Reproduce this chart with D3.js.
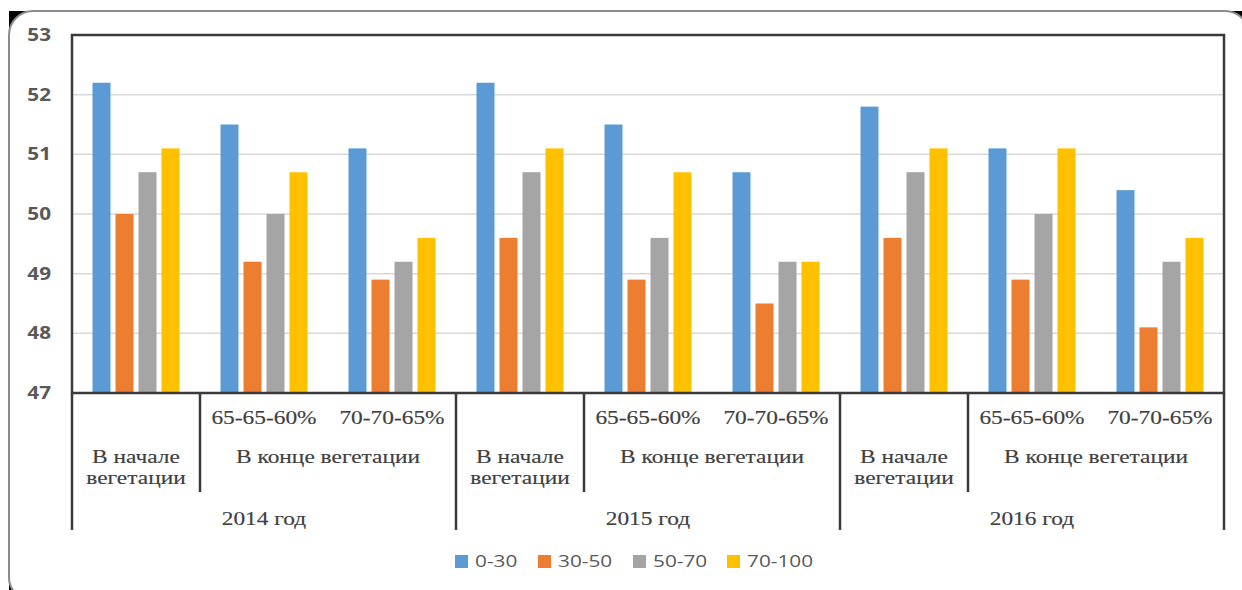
<!DOCTYPE html>
<html>
<head>
<meta charset="utf-8">
<script src="https://cdn.jsdelivr.net/npm/d3@7"></script>
<style>
  body { margin: 0; background: #fff; }
  svg { display: block; }
</style>
</head>
<body>
<div id="chart"></div>
<script>
const width = 1242;
const height = 590;

// data
const years = ["2014 год", "2015 год", "2016 год"];
const stages = ["В начале вегетации", "65-65-60%", "70-70-65%"];
const series = ["0-30", "30-50", "50-70", "70-100"];
const colors = ["#5b9bd5", "#ed7d31", "#a5a5a5", "#ffc000"];
const s0_30   = [52.2, 51.5, 51.1, 52.2, 51.5, 50.7, 51.8, 51.1, 50.4];
const s30_50  = [50.0, 49.2, 48.9, 49.6, 48.9, 48.5, 49.6, 48.9, 48.1];
const s50_70  = [50.7, 50.0, 49.2, 50.7, 49.6, 49.2, 50.7, 50.0, 49.2];
const s70_100 = [51.1, 50.7, 49.6, 51.1, 50.7, 49.2, 51.1, 51.1, 49.6];
const yTicks = [47, 48, 49, 50, 51, 52, 53];

const values = [s0_30, s30_50, s50_70, s70_100];
const cats = d3.range(9);

const margin = { top: 35, left: 72, right: 18, bottom: 197 };
const plotW = width - margin.left - margin.right;

const svg = d3.select("#chart")
  .append("svg")
  .attr("width", width)
  .attr("height", height);

// outer frame with dark corners
svg.append("rect")
  .attr("x", 9).attr("y", 11)
  .attr("width", 1240).attr("height", 590)
  .attr("fill", "#000");
svg.append("rect")
  .attr("x", 9).attr("y", 11)
  .attr("width", 1240).attr("height", 590)
  .attr("rx", 24)
  .attr("fill", "#fff")
  .attr("stroke", "#8c8c8c")
  .attr("stroke-width", 2);

const x0 = d3.scaleBand()
  .domain(cats)
  .range([margin.left, margin.left + plotW]);

const cw = x0.bandwidth();
const x1 = d3.scaleBand()
  .domain(series)
  .range([(cw - 87) / 2, (cw + 87) / 2])
  .paddingInner(5 / 23);

const y = d3.scaleLinear()
  .domain([47, 53])
  .range([393, 35]);

// stretched text helper
function stretchText(g, x, yy, txt, k) {
  return g.append("text")
    .attr("transform", `translate(${x},${yy}) scale(${k},1)`)
    .text(txt);
}

// gridlines
svg.append("g")
  .selectAll("line")
  .data(yTicks.slice(1, -1))
  .join("line")
  .attr("x1", margin.left)
  .attr("x2", margin.left + plotW)
  .attr("y1", d => y(d))
  .attr("y2", d => y(d))
  .attr("stroke", "#d9d9d9")
  .attr("stroke-width", 1.5);

// y labels
const yl = svg.append("g")
  .attr("font-family", "'Open Sans', sans-serif")
  .attr("font-weight", 700)
  .attr("font-size", 17)
  .attr("fill", "#595959")
  .attr("text-anchor", "end");
yTicks.forEach(t => {
  stretchText(yl, 51, y(t) + 6, t, 1.22);
});

// bars
const groups = svg.append("g")
  .selectAll("g")
  .data(cats)
  .join("g")
  .attr("transform", d => `translate(${x0(d)},0)`);

groups.selectAll("rect")
  .data(c => series.map((s, i) => ({ s, i, v: values[i][c] })))
  .join("rect")
  .attr("x", d => x1(d.s))
  .attr("y", d => y(d.v))
  .attr("width", x1.bandwidth())
  .attr("height", d => y(47) - y(d.v))
  .attr("fill", d => colors[d.i]);

// plot frame
svg.append("rect")
  .attr("x", margin.left)
  .attr("y", y(53))
  .attr("width", plotW)
  .attr("height", y(47) - y(53))
  .attr("fill", "none")
  .attr("stroke", "#3a3a3a")
  .attr("stroke-width", 2.5);

// category axis separators
const sep = svg.append("g")
  .attr("stroke", "#3a3a3a")
  .attr("stroke-width", 2.5);
years.forEach((yr, j) => {
  const xs = x0(j * 3);
  sep.append("line")
    .attr("x1", xs).attr("x2", xs)
    .attr("y1", 393).attr("y2", 530);
  sep.append("line")
    .attr("x1", xs + cw).attr("x2", xs + cw)
    .attr("y1", 393).attr("y2", 492);
});
sep.append("line")
  .attr("x1", margin.left + plotW).attr("x2", margin.left + plotW)
  .attr("y1", 393).attr("y2", 530);

// category labels
const cl = svg.append("g")
  .attr("font-family", "'Liberation Serif', 'Times New Roman', serif")
  .attr("font-size", 18)
  .attr("fill", "#404040")
  .attr("stroke", "#404040")
  .attr("stroke-width", 0.15)
  .attr("text-anchor", "middle");
const k = 1.3;
years.forEach((yr, j) => {
  const xs = x0(j * 3);
  stretchText(cl, xs + cw / 2, 463, "В начале", k);
  stretchText(cl, xs + cw / 2, 484, "вегетации", k);
  stretchText(cl, xs + cw + cw / 2, 424, stages[1], k);
  stretchText(cl, xs + 2 * cw + cw / 2, 424, stages[2], k);
  stretchText(cl, xs + 2 * cw, 463, "В конце вегетации", k);
  stretchText(cl, xs + 1.5 * cw, 525, yr, k);
});

// legend
const legendX = [455, 538, 633, 727];
const lg = svg.append("g")
  .attr("font-family", "'Open Sans', sans-serif")
  .attr("font-size", 16)
  .attr("fill", "#595959");
series.forEach((s, i) => {
  lg.append("rect")
    .attr("x", legendX[i])
    .attr("y", 555)
    .attr("width", 13)
    .attr("height", 13)
    .attr("fill", colors[i]);
  stretchText(lg, legendX[i] + 20, 567, s, 1.3);
});
</script>
</body>
</html>
